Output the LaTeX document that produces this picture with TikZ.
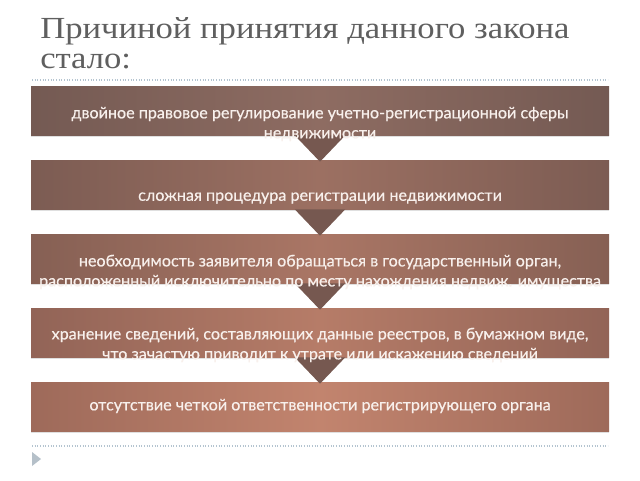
\documentclass[tikz,border=0pt]{standalone}
\usepackage{fontspec}
\setmainfont{Liberation Serif}
\newfontfamily\titlefont[FakeStretch=1.13]{Liberation Serif}
\newfontfamily\boxfont[FakeBold=0.5]{Lato}
\usetikzlibrary{shadows}
\definecolor{titlegray}{RGB}{95,95,95}
\definecolor{dotblue}{RGB}{180,196,208}
\definecolor{arrowbrown}{RGB}{118,88,80}
\definecolor{eA}{RGB}{116,90,83}\definecolor{cA}{RGB}{142,108,98}
\definecolor{eB}{RGB}{124,92,83}\definecolor{cB}{RGB}{156,112,98}
\definecolor{eC}{RGB}{134,96,84}\definecolor{cC}{RGB}{170,118,101}
\definecolor{eD}{RGB}{146,100,87}\definecolor{cD}{RGB}{182,124,104}
\definecolor{eE}{RGB}{158,106,90}\definecolor{cE}{RGB}{194,132,110}
\definecolor{boxtext}{RGB}{248,240,236}
\begin{document}
\begin{tikzpicture}[x=0.75pt,y=-0.75pt,
  stepbox/.style={rectangle, minimum width=433.5pt, minimum height=36.75pt, inner sep=0pt,
    drop shadow={shadow xshift=0pt, shadow yshift=-1.5pt, opacity=0.25}},
  boxlabel/.style={text=boxtext, font=\boxfont\fontsize{12.1}{15}\selectfont, align=center, inner sep=0pt},
  titletext/.style={text=titlegray, font=\titlefont\fontsize{23}{28}\selectfont, anchor=base west, inner sep=0pt},
  downarrow/.style={fill=arrowbrown},
  sep/.style={dotblue, line width=0.9pt, dash pattern=on 0.8pt off 1.2pt}
]
\useasboundingbox (0,0) rectangle (640,480);
\fill[white] (0,0) rectangle (640,480);

\node[titletext] (t1) at (40,38) {Причиной принятия данного закона};
\node[titletext] (t2) at (40,68) {стало:};

\coordinate (sepA) at (32,80); \coordinate (sepB) at (608,80);
\draw[sep] (sepA) -- (sepB);
\coordinate (sepC) at (32,446); \coordinate (sepD) at (608,446);
\draw[sep] (sepC) -- (sepD);

\node[stepbox, left color=eA, right color=eA, middle color=cA] (b1) at (320,110.5) {};
\node[stepbox, left color=eB, right color=eB, middle color=cB] (b2) at (320,184.5) {};
\node[stepbox, left color=eC, right color=eC, middle color=cC] (b3) at (320,258.5) {};
\node[stepbox, left color=eD, right color=eD, middle color=cD] (b4) at (320,332.5) {};
\node[stepbox, left color=eE, right color=eE, middle color=cE] (b5) at (320,406.5) {};

\foreach \u/\v in {b1/b2,b2/b3,b3/b4,b4/b5}{
  \fill[downarrow] ([xshift=-19pt]\u.south) -- ([xshift=19pt]\u.south) -- ([yshift=-1.5pt]\v.north) -- cycle;
}

\node[boxlabel] (l1) at (320,124) {двойное правовое регулирование учетно-регистрационной сферы\\недвижимости};
\node[boxlabel] (l2) at (320,198) {сложная процедура регистрации недвижимости};
\node[boxlabel] (l3) at (320,272) {необходимость заявителя обращаться в государственный орган,\\расположенный исключительно по месту нахождения недвиж. имущества};
\node[boxlabel] (l4) at (320,345) {хранение сведений, составляющих данные реестров, в бумажном виде,\\что зачастую приводит к утрате или искажению сведений};
\node[boxlabel] (l5) at (320,406) {отсутствие четкой ответственности регистрирующего органа};

\coordinate (bulA) at (32,452); \coordinate (bulB) at (32,466); \coordinate (bulC) at (41,459);
\fill[dotblue!90!black!80] (bulA) -- (bulC) -- (bulB) -- cycle;
\end{tikzpicture}
\end{document}
